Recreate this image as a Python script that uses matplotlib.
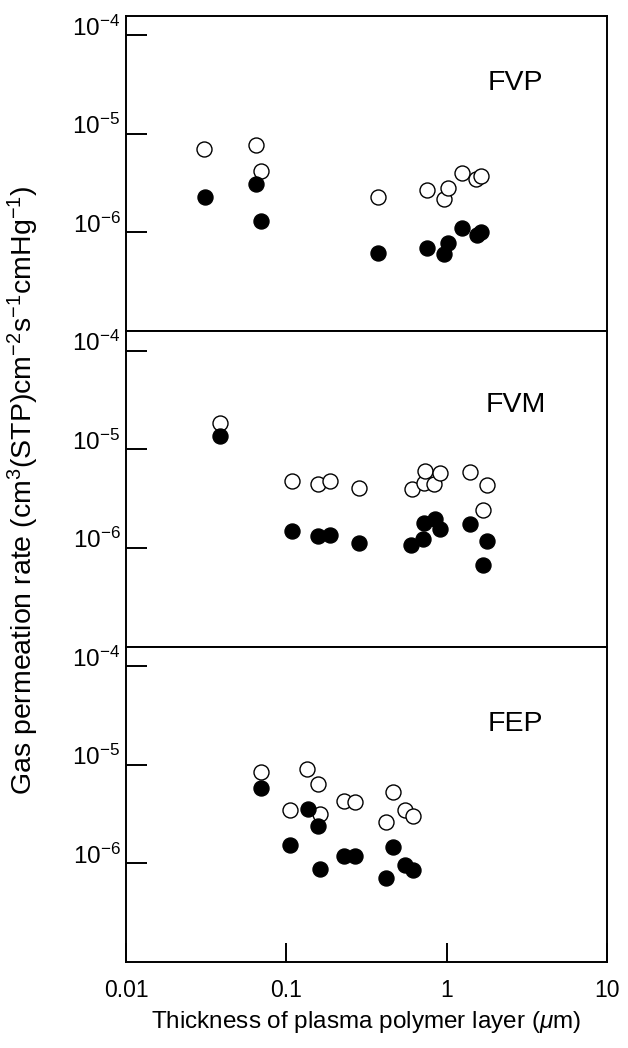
import numpy as np
import matplotlib
matplotlib.use('Agg')
import matplotlib.pyplot as plt
from matplotlib.transforms import ScaledTranslation

plt.rcParams['font.family'] = ['Liberation Sans', 'DejaVu Sans']
plt.rcParams['mathtext.fontset'] = 'custom'
plt.rcParams['mathtext.rm'] = 'Liberation Sans'
plt.rcParams['mathtext.it'] = 'Liberation Sans:italic'
plt.rcParams['mathtext.default'] = 'regular'

# data: thickness (um), permeation rate
panels = ['FVP', 'FVM', 'FEP']

fvp_open_x = [0.0306, 0.065, 0.070, 0.372, 0.757, 0.96, 1.02, 1.24, 1.52, 1.63]
fvp_open_y = [7.1e-6, 7.7e-6, 4.2e-6, 2.3e-6, 2.7e-6, 2.2e-6, 2.8e-6, 4.0e-6, 3.5e-6, 3.7e-6]
fvp_fill_x = [0.031, 0.065, 0.070, 0.372, 0.757, 1.02, 0.96, 1.24, 1.54, 1.64]
fvp_fill_y = [2.3e-6, 3.1e-6, 1.31e-6, 6.2e-7, 7.0e-7, 7.9e-7, 6.0e-7, 1.1e-6, 9.5e-7, 1.02e-6]

fvm_open_x = [0.0387, 0.108, 0.157, 0.187, 0.285, 0.604, 0.718, 0.73, 0.837, 0.908, 1.40, 1.79, 1.68]
fvm_open_y = [1.87e-5, 4.8e-6, 4.5e-6, 4.8e-6, 4.1e-6, 4.0e-6, 4.6e-6, 6.0e-6, 4.5e-6, 5.7e-6, 5.9e-6, 4.3e-6, 2.4e-6]
fvm_fill_x = [0.0387, 0.108, 0.158, 0.187, 0.285, 0.60, 0.715, 0.72, 0.84, 0.908, 1.40, 1.79, 1.68]
fvm_fill_y = [1.36e-5, 1.49e-6, 1.31e-6, 1.35e-6, 1.12e-6, 1.07e-6, 1.23e-6, 1.78e-6, 1.98e-6, 1.57e-6, 1.74e-6, 1.17e-6, 6.7e-7]

fep_open_x = [0.0698, 0.105, 0.135, 0.157, 0.163, 0.228, 0.267, 0.416, 0.462, 0.552, 0.613]
fep_open_y = [8.4e-6, 3.5e-6, 9.1e-6, 6.4e-6, 3.2e-6, 4.3e-6, 4.2e-6, 2.6e-6, 5.3e-6, 3.5e-6, 3.0e-6]
fep_fill_x = [0.0698, 0.105, 0.136, 0.157, 0.163, 0.228, 0.27, 0.416, 0.46, 0.552, 0.617]
fep_fill_y = [5.8e-6, 1.52e-6, 3.6e-6, 2.4e-6, 8.8e-7, 1.19e-6, 1.2e-6, 7.1e-7, 1.46e-6, 9.7e-7, 8.5e-7]

open_x = [fvp_open_x, fvm_open_x, fep_open_x]
open_y = [fvp_open_y, fvm_open_y, fep_open_y]
fill_x = [fvp_fill_x, fvm_fill_x, fep_fill_x]
fill_y = [fvp_fill_y, fvm_fill_y, fep_fill_y]

y_ticks = [1e-6, 1e-5, 1e-4]
y_tick_labels = ['$10^{-6}$', '$10^{-5}$', '$10^{-4}$']
x_ticks = [0.01, 0.1, 1, 10]
x_tick_labels = ['0.01', '0.1', '1', '10']

fig = plt.figure(figsize=(6.28, 10.48), dpi=100)
left, width, height = 0.2006, 0.766, 0.301
bottoms = [0.6841, 0.3831, 0.0821]
label_y = [0.785, 0.765, 0.755]

axes = []
for i, name in enumerate(panels):
    ax = fig.add_axes([left, bottoms[i], width, height])
    axes.append(ax)
    ax.set_xscale('log')
    ax.set_yscale('log')
    ax.set_xlim(0.01, 10)
    ax.set_ylim(1e-7, 10 ** -3.8)
    ax.plot(open_x[i], open_y[i], 'o', ms=10.8, mfc='white', mec='black', mew=1.0, ls='none', zorder=3)
    ax.plot(fill_x[i], fill_y[i], 'o', ms=10.8, mfc='black', mec='black', mew=1.0, ls='none', zorder=4)
    ax.text(0.81, label_y[i], name, transform=ax.transAxes, fontsize=20.5,
            ha='center', va='center')

    for s in ax.spines.values():
        s.set_linewidth(1.4)
    ax.minorticks_off()
    ax.set_yticks(y_ticks)
    ax.set_yticklabels(y_tick_labels, fontsize=17.5)
    ax.tick_params(axis='y', which='major', direction='in', length=15, width=1.4, pad=4)
    # labels sit a little above their ticks in the original
    off = ScaledTranslation(0, 7 / 72, fig.dpi_scale_trans)
    for lab in ax.get_yticklabels():
        lab.set_transform(lab.get_transform() + off)

    if i < 2:
        ax.set_xticks([])
    else:
        ax.set_xticks(x_ticks)
        ax.set_xticklabels(x_tick_labels, fontsize=16.5)
        ax.tick_params(axis='x', which='major', direction='in', length=14, width=1.4, pad=12)
    ax.tick_params(which='minor', length=0)

fig.text(0.5 * (left * 2 + width), 0.012, r'Thickness of plasma polymer layer ($\mathit{\mu}$m)',
         fontsize=17.5, ha='center', va='bottom')
fig.text(0.037, 0.532,
         r'Gas permeation rate (cm$^{3}$(STP)cm$^{-2}$s$^{-1}$cmHg$^{-1}$)',
         fontsize=20.5, rotation=90, ha='center', va='center')

fig.savefig('out.png', dpi=100)
